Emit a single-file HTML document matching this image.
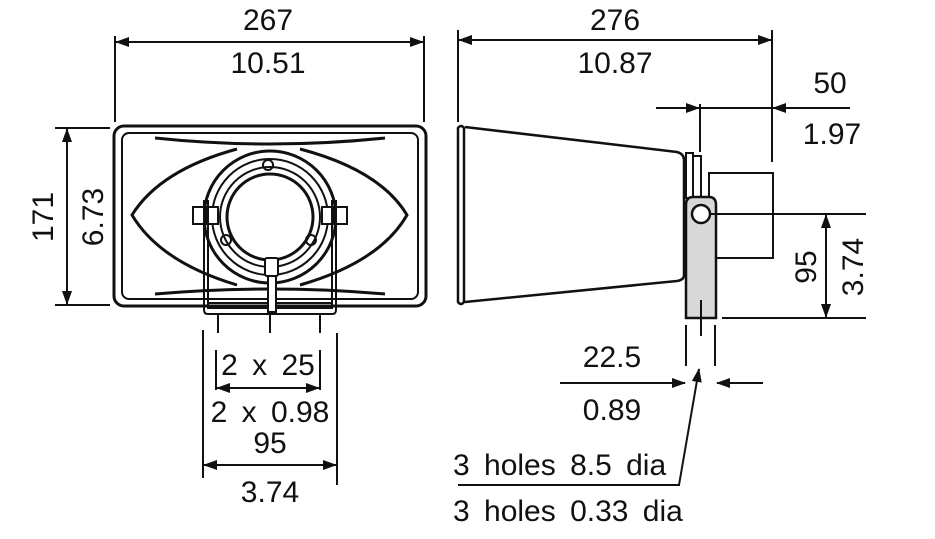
<!DOCTYPE html>
<html><head><meta charset="utf-8"><style>
html,body{margin:0;padding:0;background:#fff}
svg{display:block}
text{font-family:"Liberation Sans",sans-serif;font-size:30px;fill:#111;word-spacing:6px}
</style></head><body>
<svg width="935" height="539" viewBox="0 0 935 539" xmlns="http://www.w3.org/2000/svg">
<defs>
<marker id="a" markerWidth="14" markerHeight="10" refX="13" refY="5" orient="auto-start-reverse" markerUnits="userSpaceOnUse"><path d="M0,0 L14,5 L0,10 z" fill="#111"/></marker>
</defs>
<g stroke="#111" stroke-width="2" fill="none">
<line x1="115" y1="36" x2="115" y2="122"/><line x1="424" y1="36" x2="424" y2="122"/>
<line x1="116" y1="42" x2="423" y2="42" marker-start="url(#a)" marker-end="url(#a)"/>
<line x1="55" y1="128" x2="110" y2="128"/><line x1="55" y1="305" x2="110" y2="305"/>
<line x1="67" y1="129" x2="67" y2="304" marker-start="url(#a)" marker-end="url(#a)"/>
<rect x="114" y="126" width="312" height="180" rx="10" stroke-width="3"/>
<rect x="122" y="133" width="296" height="166" rx="7"/>
<path d="M155,138 Q270,150 385,138" stroke-width="3"/>
<path d="M155,294 Q270,284 385,294" stroke-width="3"/>
<path d="M237,149 Q160,170 132,215 Q160,262 237,285" stroke-width="3"/>
<path d="M300,149 Q380,170 407,215 Q380,262 300,285" stroke-width="3"/>
<circle cx="270" cy="217" r="66" fill="#fff" stroke-width="3"/>
<circle cx="270" cy="217" r="58"/>
<circle cx="270" cy="217" r="50"/>
<circle cx="270" cy="217" r="43" stroke-width="3"/>
<circle cx="268" cy="165" r="5"/><circle cx="226" cy="240" r="5"/><circle cx="311" cy="240" r="5"/>
<rect x="193" y="207" width="12" height="17" fill="#fff"/><rect x="206" y="207" width="12" height="17" fill="#fff"/>
<rect x="322" y="207" width="12" height="17" fill="#fff"/><rect x="335" y="207" width="12" height="17" fill="#fff"/>
<path d="M204,200 V310 Q204,314 208,314 H332 Q336,314 336,310 V200"/>
<path d="M208,200 V308 H332 V200"/>
<line x1="208" y1="303" x2="332" y2="303"/>
<rect x="265" y="258" width="13" height="18" rx="2" fill="#fff"/>
<rect x="268" y="276" width="8" height="36" fill="#fff"/>
<line x1="218" y1="314" x2="218" y2="333"/><line x1="270" y1="314" x2="270" y2="333"/><line x1="320" y1="314" x2="320" y2="333"/>
<line x1="216" y1="350" x2="216" y2="390"/><line x1="320" y1="350" x2="320" y2="390"/>
<line x1="217" y1="388" x2="319" y2="388" marker-start="url(#a)" marker-end="url(#a)"/>
<line x1="203" y1="330" x2="203" y2="478"/><line x1="337" y1="333" x2="337" y2="485"/>
<line x1="204" y1="465" x2="336" y2="465" marker-start="url(#a)" marker-end="url(#a)"/>
<line x1="458" y1="30" x2="458" y2="122"/><line x1="772" y1="30" x2="772" y2="162"/>
<line x1="459" y1="40" x2="771" y2="40" marker-start="url(#a)" marker-end="url(#a)"/>
<path d="M458,128 Q461,124 464,128 V302 Q461,306 458,302 Z" stroke-width="2.5"/>
<path d="M465,127 L677,152 Q684,154 684,160 V275 Q684,280 677,281 L465,302" stroke-width="2.5"/>
<rect x="686" y="153" width="7" height="45"/><rect x="693" y="156" width="8" height="42"/>
<rect x="709" y="173" width="64" height="85" fill="#fff"/>
<path d="M686,318 V205 Q686,197 693,197 H709 Q716,197 716,205 V318 Z" fill="#d8d8d8" stroke-width="2.5"/>
<line x1="701" y1="300" x2="701" y2="320"/>
<circle cx="701" cy="214" r="9" fill="#fff" stroke-width="2.5"/>
<line x1="700" y1="104" x2="700" y2="152"/>
<line x1="656" y1="108" x2="699" y2="108" marker-end="url(#a)"/>
<line x1="850" y1="108" x2="773" y2="108" marker-end="url(#a)"/>
<line x1="699" y1="108" x2="773" y2="108"/>
<line x1="710" y1="214" x2="866" y2="214"/><line x1="722" y1="318" x2="866" y2="318"/>
<line x1="826" y1="215" x2="826" y2="317" marker-start="url(#a)" marker-end="url(#a)"/>
<line x1="686" y1="325" x2="686" y2="366"/><line x1="715" y1="325" x2="715" y2="366"/>
<line x1="701" y1="320" x2="701" y2="336"/>
<line x1="560" y1="383" x2="685" y2="383" marker-end="url(#a)"/>
<line x1="763" y1="383" x2="717" y2="383" marker-end="url(#a)"/>
<line x1="679" y1="485" x2="699" y2="369" marker-end="url(#a)"/>
<line x1="458" y1="485" x2="680" y2="485"/>
</g>
<g>
<text x="268" y="30" text-anchor="middle">267</text>
<text x="268" y="73" text-anchor="middle">10.51</text>
<text transform="translate(53,217) rotate(-90)" text-anchor="middle">171</text>
<text transform="translate(103,217) rotate(-90)" text-anchor="middle">6.73</text>
<text x="268" y="375" text-anchor="middle">2 x 25</text>
<text x="270" y="422" text-anchor="middle">2 x 0.98</text>
<text x="270" y="453" text-anchor="middle">95</text>
<text x="270" y="502" text-anchor="middle">3.74</text>
<text x="615" y="30" text-anchor="middle">276</text>
<text x="615" y="73" text-anchor="middle">10.87</text>
<text x="830" y="93" text-anchor="middle">50</text>
<text x="832" y="144" text-anchor="middle">1.97</text>
<text transform="translate(816,267) rotate(-90)" text-anchor="middle">95</text>
<text transform="translate(863,267) rotate(-90)" text-anchor="middle">3.74</text>
<text x="612" y="367" text-anchor="middle">22.5</text>
<text x="612" y="420" text-anchor="middle">0.89</text>
<text x="453" y="475">3 holes 8.5 dia</text>
<text x="453" y="521">3 holes 0.33 dia</text>
</g>
</svg>
</body></html>
